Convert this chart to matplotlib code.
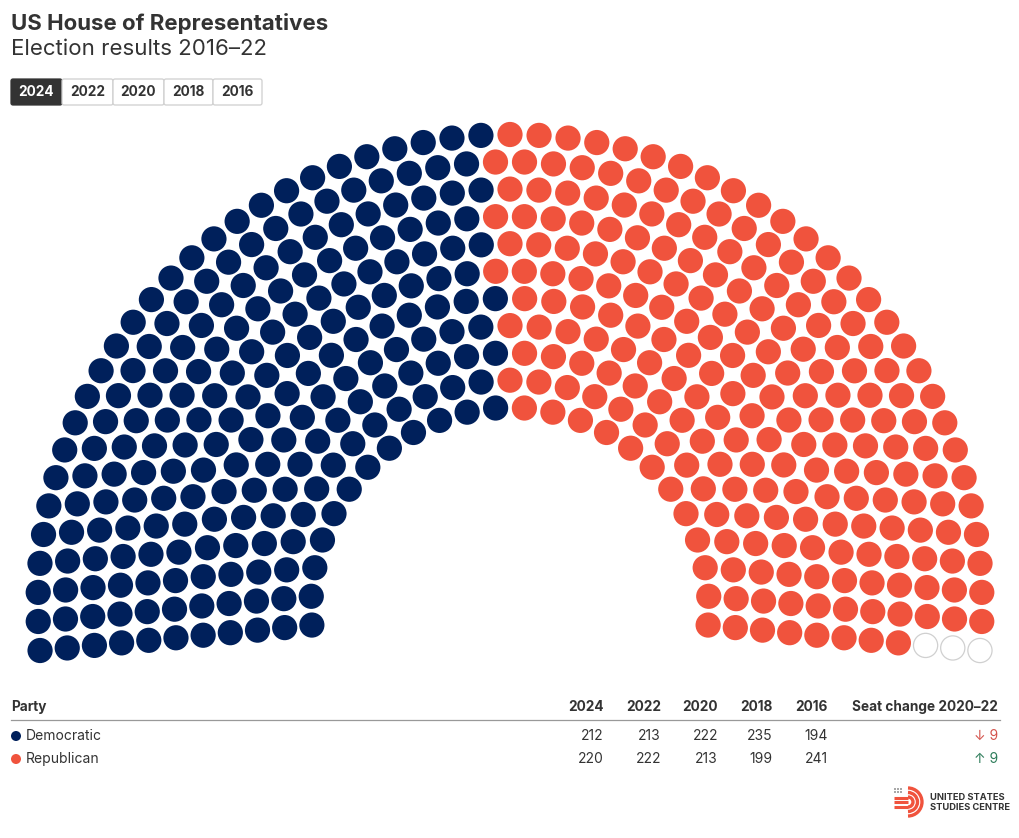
import numpy as np
import matplotlib.pyplot as plt
from matplotlib.patches import Circle, FancyBboxPatch, Arc

plt.rcParams['font.family'] = ['Inter', 'DejaVu Sans']

# data
parties = ["Democratic", "Republican"]
party_colors = ["#00205b", "#f0533d"]
years = ["2024", "2022", "2020", "2018", "2016"]
dem_seats = [212, 213, 222, 235, 194]
rep_seats = [220, 222, 213, 199, 241]
total_seats = 435
selected_year = "2024"

results = [dem_seats, rep_seats]
# seat change 2020-22
changes = [r[1] - r[2] for r in results]

TXT = "#333333"

fig = plt.figure(figsize=(10.2, 8.38), dpi=100)
ax = fig.add_axes([0, 0, 1, 1])
ax.set_xlim(0, 1020)
ax.set_ylim(838, 0)
ax.axis("off")

# title
ax.text(11, 24, "US House of Representatives", fontsize=16, fontweight="bold",
        color=TXT, va="center", ha="left")
ax.text(11, 49, "Election results 2016\u201322", fontsize=16, color=TXT,
        va="center", ha="left")

# year buttons
edges = [11, 62, 113, 164, 213, 262]
for i, y in enumerate(years):
    sel = y == selected_year
    box = FancyBboxPatch((edges[i], 79), edges[i + 1] - edges[i], 26,
                         boxstyle="round,pad=0,rounding_size=2",
                         fc="#333333" if sel else "white",
                         ec="#333333" if sel else "#cfcfcf", lw=0.9)
    ax.add_patch(box)
    ax.text((edges[i] + edges[i + 1]) / 2, 92.5, y, fontsize=9.8, fontweight="bold",
            color="white" if sel else TXT, ha="center", va="center")

# parliament layout
n_rings = 11
cx, cy = 510, 606.5
r_in, r_out = 199, 472
seat_r = 12.6
tilt = np.radians(5.35)
a0, a1 = np.pi + tilt, -tilt
span = a0 - a1
radii = np.linspace(r_in, r_out, n_rings)

gap = span * radii.sum() / (total_seats - n_rings)
exact = radii * span / gap
counts = np.round(exact).astype(int) + 1
while counts.sum() != total_seats:
    diff = total_seats - counts.sum()
    resid = exact + 1 - counts
    k = np.argmax(resid) if diff > 0 else np.argmin(resid)
    counts[k] += np.sign(diff)

seats = []
for k, (r, n) in enumerate(zip(radii, counts)):
    for a in np.linspace(a0, a1, n):
        seats.append((a, k, r))
seats.sort(key=lambda s: (-s[0], s[1]))

idx = years.index(selected_year)
fills = []
for p, res in enumerate(results):
    fills += [party_colors[p]] * res[idx]
fills += [None] * (total_seats - len(fills))

for (a, k, r), c in zip(seats, fills):
    x = cx + r * np.cos(a)
    y = cy - r * np.sin(a)
    if c is None:
        ax.add_patch(Circle((x, y), seat_r - 0.5, fc="white", ec="#d0d0d0", lw=0.9))
    else:
        ax.add_patch(Circle((x, y), seat_r, fc=c, ec="none"))

# table
col_right = [604, 661, 718, 773, 828]
ax.text(11, 707, "Party", fontsize=9.8, fontweight="bold", color=TXT, va="center")
for x, y in zip(col_right, years):
    ax.text(x, 707, y, fontsize=9.8, fontweight="bold", color=TXT, va="center", ha="right")
ax.text(998, 707, "Seat change 2020\u201322", fontsize=9.8, fontweight="bold", color=TXT,
        va="center", ha="right")
ax.plot([11, 1000], [719.5, 719.5], color="#999999", lw=0.9)

row_y = [736, 759]
for i, party in enumerate(parties):
    ax.add_patch(Circle((16, row_y[i]), 5, fc=party_colors[i], ec="none"))
    ax.text(26, row_y[i], party, fontsize=10, color=TXT, va="center")
    for x, v in zip(col_right, results[i]):
        ax.text(x, row_y[i], str(v), fontsize=10, color=TXT, va="center", ha="right")
    ch = changes[i]
    arrow = "\u2191" if ch > 0 else "\u2193"
    ax.text(998, row_y[i], f"{arrow} {abs(ch)}", fontsize=10,
            color="#2e7d5b" if ch > 0 else "#d4534c", va="center", ha="right")

# logo
logo_red = "#f0533d"
for rr in [5, 9.5, 14]:
    ax.add_patch(Arc((908, 802), 2 * rr, 2 * rr, theta1=-90, theta2=90,
                     color=logo_red, lw=2.4))
for yy in [797.5, 802, 806.5]:
    ax.plot([894, 908], [yy, yy], color=logo_red, lw=2.2, solid_capstyle="butt")
for gx in range(3):
    for gy in range(2):
        ax.add_patch(Circle((895 + gx * 3, 789 + gy * 3), 0.9, fc="#777777", ec="none"))
ax.text(930, 797, "UNITED STATES", fontsize=6.7, fontweight="bold", color=TXT, va="center")
ax.text(930, 807.5, "STUDIES CENTRE", fontsize=6.7, fontweight="bold", color=TXT, va="center")

fig.savefig("out.png", dpi=100)
